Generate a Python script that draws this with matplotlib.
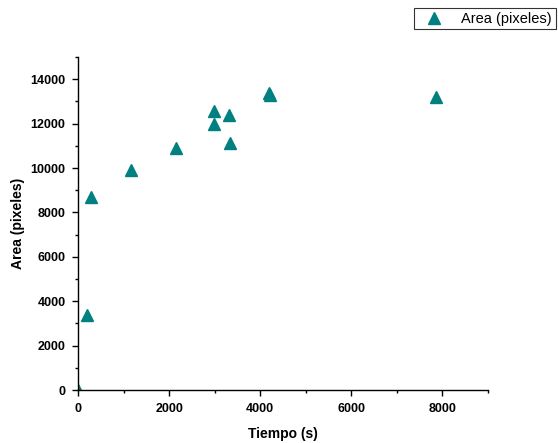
import matplotlib
matplotlib.use("Agg")
import matplotlib.pyplot as plt
from matplotlib.ticker import MultipleLocator

plt.rcParams['font.family'] = ['Liberation Sans', 'DejaVu Sans']

tiempo = [0, 200, 280, 1165, 2150, 2995, 2980, 3310, 3330, 4190, 4215, 7850]
area = [0, 3400, 8700, 9920, 10900, 12580, 12000, 12400, 11120, 13400, 13280, 13200]

series_label = "Area (pixeles)"
x_label = "Tiempo (s)"
y_label = "Area (pixeles)"

fig = plt.figure(figsize=(5.58, 4.43), dpi=100)
ax = fig.add_axes([0.1398, 0.1196, 0.7348, 0.7517])

ax.plot(tiempo, area, linestyle='none', marker='^', markersize=9,
        color='#008080', label=series_label, clip_on=True)

ax.set_xlim(0, 9000)
ax.set_ylim(0, 15000)
ax.xaxis.set_major_locator(MultipleLocator(2000))
ax.xaxis.set_minor_locator(MultipleLocator(1000))
ax.yaxis.set_major_locator(MultipleLocator(2000))
ax.yaxis.set_minor_locator(MultipleLocator(1000))

for s in ['top', 'right']:
    ax.spines[s].set_visible(False)
for s in ['left', 'bottom']:
    ax.spines[s].set_linewidth(1.0)

ax.tick_params(which='major', direction='out', length=4, width=1, labelsize=9, pad=5)
ax.tick_params(which='minor', direction='out', length=2.5, width=1)
for lab in ax.get_xticklabels() + ax.get_yticklabels():
    lab.set_fontweight('bold')

ax.set_xlabel(x_label, fontsize=10, fontweight='bold', labelpad=9)
ax.set_ylabel(y_label, fontsize=10, fontweight='bold', labelpad=4)

leg = fig.legend(loc='upper left', bbox_to_anchor=(414/558, 1 - 8/443),
                 frameon=True, fancybox=False, fontsize=10.5, handlelength=2.2,
                 borderpad=0.25, handletextpad=0.8, borderaxespad=0)
leg.get_frame().set_edgecolor('black')
leg.get_frame().set_linewidth(0.8)

fig.savefig('out.png', dpi=100)
